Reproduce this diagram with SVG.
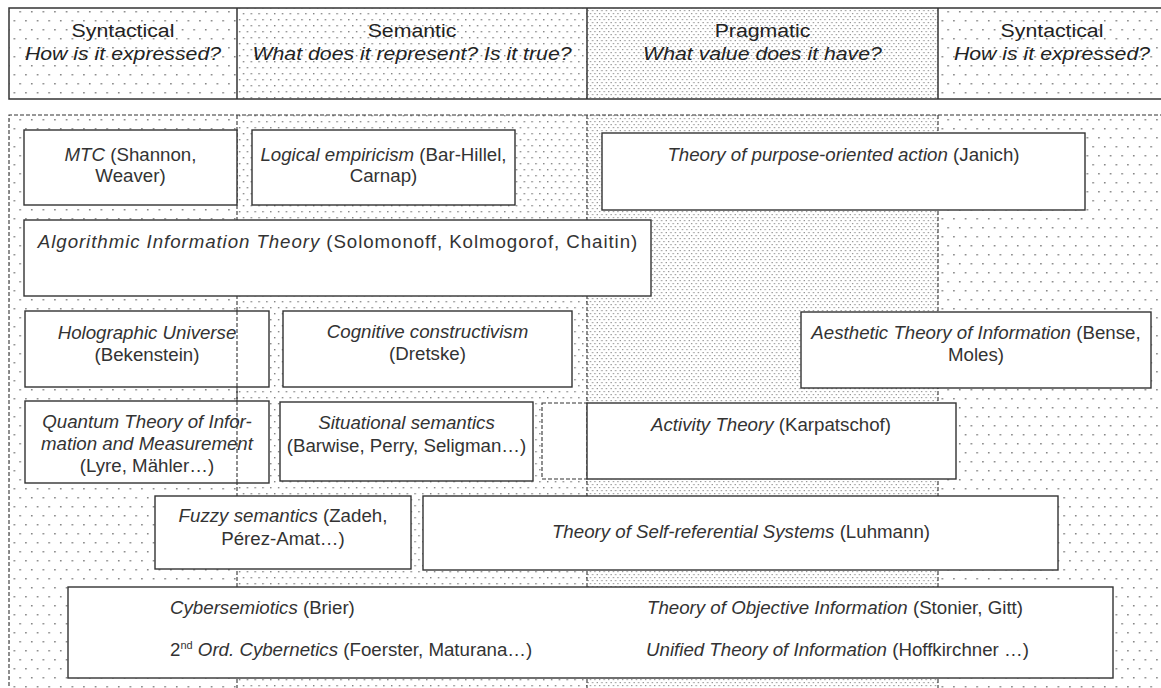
<svg xmlns="http://www.w3.org/2000/svg" width="1161" height="688" viewBox="0 0 1161 688">
<defs>
<pattern id="pSyn" width="11.6" height="18" patternUnits="userSpaceOnUse"><rect x="2" y="2" width="1.5" height="1.5" fill="#7a7a7a"/><rect x="7.8" y="11" width="1.5" height="1.5" fill="#7a7a7a"/></pattern>
<pattern id="pSem" width="7.8" height="12" patternUnits="userSpaceOnUse"><rect x="1" y="1" width="1.4" height="1.4" fill="#808080"/><rect x="4.9" y="7" width="1.4" height="1.4" fill="#808080"/></pattern>
<pattern id="pPrag" width="4.6" height="6" patternUnits="userSpaceOnUse"><rect x="1" y="1" width="1.2" height="1.2" fill="#888"/><rect x="3.3" y="4" width="1.2" height="1.2" fill="#888"/></pattern>
</defs>
<style>
.box{fill:#fff;stroke:#333;stroke-width:1.4}
.hdr{fill:none;stroke:#333;stroke-width:1.5}
.dash{fill:none;stroke:#333;stroke-width:1.1;stroke-dasharray:4 2}
.t{font-family:"Liberation Sans",Arial,sans-serif;font-size:18.7px;fill:#333;text-anchor:middle}
.s{text-anchor:start}
.h{font-family:"Liberation Sans",Arial,sans-serif;font-size:19px;fill:#222;text-anchor:middle}
.i{font-style:italic}
</style>
<rect x="0" y="0" width="1161" height="688" fill="#fff"/>

<g id="background">
<rect x="9" y="8" width="228" height="91" fill="url(#pSyn)"/>
<rect x="237" y="8" width="350" height="91" fill="url(#pSem)"/>
<rect x="587" y="8" width="351" height="91" fill="url(#pPrag)"/>
<rect x="938" y="8" width="230" height="91" fill="url(#pSyn)"/>
<rect x="9" y="115" width="228" height="580" fill="url(#pSyn)"/>
<rect x="237" y="115" width="350" height="580" fill="url(#pSem)"/>
<rect x="587" y="115" width="351" height="580" fill="url(#pPrag)"/>
<rect x="938" y="115" width="230" height="580" fill="url(#pSyn)"/>
</g>

<g id="header">
<rect class="hdr" x="9" y="8" width="1160" height="91"/>
<line class="hdr" x1="237" y1="8" x2="237" y2="99"/>
<line class="hdr" x1="587" y1="8" x2="587" y2="99"/>
<line class="hdr" x1="938" y1="8" x2="938" y2="99"/>
<g transform="translate(123 0) scale(1.12 1)"><text class="h" x="0" y="37">Syntactical</text><text class="h i" x="0" y="60">How is it expressed?</text></g>
<g transform="translate(412 0) scale(1.12 1)"><text class="h" x="0" y="37">Semantic</text><text class="h i" x="0" y="60">What does it represent? Is it true?</text></g>
<g transform="translate(762.5 0) scale(1.12 1)"><text class="h" x="0" y="37">Pragmatic</text><text class="h i" x="0" y="60">What value does it have?</text></g>
<g transform="translate(1052 0) scale(1.12 1)"><text class="h" x="0" y="37">Syntactical</text><text class="h i" x="0" y="60">How is it expressed?</text></g>
</g>

<g id="connectors">
<path class="dash" d="M1170 115 H9 V695"/>
<line class="dash" x1="237" y1="115" x2="237" y2="688"/>
<line class="dash" x1="587" y1="115" x2="587" y2="688"/>
<line class="dash" x1="938" y1="115" x2="938" y2="688"/>
</g>

<g id="mtc">
<rect class="box" x="24" y="130" width="213" height="75"/>
<text class="t" x="130.5" y="161"><tspan class="i">MTC</tspan> (Shannon,</text>
<text class="t" x="130.5" y="182">Weaver)</text>
</g>
<g id="logical">
<rect class="box" x="252" y="130" width="263" height="75"/>
<text class="t" x="383.5" y="161"><tspan class="i">Logical empiricism</tspan> (Bar-Hillel,</text>
<text class="t" x="383.5" y="182">Carnap)</text>
</g>
<g id="purpose">
<rect class="box" x="602" y="133" width="483" height="77"/>
<text class="t" x="843.5" y="161"><tspan class="i">Theory of purpose-oriented action</tspan> (Janich)</text>
</g>
<g id="algorithmic">
<rect class="box" x="24" y="220" width="627" height="76"/>
<text class="t" x="338" y="248" letter-spacing="0.93"><tspan class="i">Algorithmic Information Theory</tspan> (Solomonoff, Kolmogorof, Chaitin)</text>
</g>
<g id="holographic">
<rect class="box" x="25" y="311" width="244" height="76"/>
<text class="t" x="147" y="339"><tspan class="i">Holographic Universe</tspan></text>
<text class="t" x="147" y="361">(Bekenstein)</text>
</g>
<g id="cognitive">
<rect class="box" x="283" y="311" width="289" height="76"/>
<text class="t" x="427.5" y="338"><tspan class="i">Cognitive constructivism</tspan></text>
<text class="t" x="427.5" y="360">(Dretske)</text>
</g>
<g id="aesthetic">
<rect class="box" x="801" y="312" width="350" height="76"/>
<text class="t" x="976" y="339"><tspan class="i">Aesthetic Theory of Information</tspan> (Bense,</text>
<text class="t" x="976" y="361">Moles)</text>
</g>
<g id="quantum">
<rect class="box" x="25" y="401" width="244" height="82"/>
<text class="t i" x="147" y="428">Quantum Theory of Infor-</text>
<text class="t i" x="147" y="450">mation and Measurement</text>
<text class="t" x="147" y="472">(Lyre, Mähler…)</text>
</g>
<g id="situational">
<rect class="box" x="280" y="402" width="253" height="79"/>
<text class="t" x="406.5" y="429"><tspan class="i">Situational semantics</tspan></text>
<text class="t" x="406.5" y="452">(Barwise, Perry, Seligman…)</text>
</g>
<g id="activity">
<rect x="542" y="403" width="45" height="76" fill="#fff" stroke="#333" stroke-width="1.1" stroke-dasharray="4 2"/>
<rect class="box" x="587" y="403" width="369" height="76"/>
<text class="t" x="771" y="431"><tspan class="i">Activity Theory</tspan> (Karpatschof)</text>
</g>
<g id="fuzzy">
<rect class="box" x="155" y="496" width="256" height="73"/>
<text class="t" x="283" y="522"><tspan class="i">Fuzzy semantics</tspan> (Zadeh,</text>
<text class="t" x="283" y="545">Pérez-Amat…)</text>
</g>
<g id="selfref">
<rect class="box" x="423" y="496" width="635" height="74"/>
<text class="t" x="741" y="538"><tspan class="i">Theory of Self-referential Systems</tspan> (Luhmann)</text>
</g>
<g id="unified">
<rect class="box" x="68" y="587" width="1045" height="91"/>
<text class="t s" x="170" y="614"><tspan class="i">Cybersemiotics</tspan> (Brier)</text>
<text class="t s" x="170" y="656">2<tspan font-size="11" dy="-7">nd</tspan><tspan class="i" dy="7"> Ord. Cybernetics</tspan> (Foerster, Maturana…)</text>
<text class="t s" x="647" y="614"><tspan class="i">Theory of Objective Information</tspan> (Stonier, Gitt)</text>
<text class="t s" x="646" y="656"><tspan class="i">Unified Theory of Information</tspan> (Hoffkirchner …)</text>
</g>

<g id="overlay">
<line class="dash" x1="237" y1="311" x2="237" y2="483"/>
</g>
</svg>
